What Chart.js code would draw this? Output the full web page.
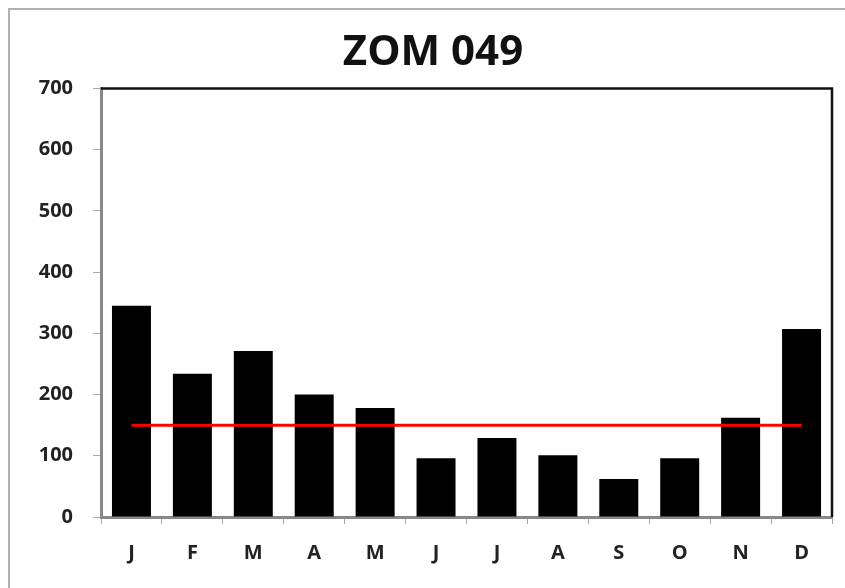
<!DOCTYPE html>
<html>
<head>
<meta charset="utf-8">
<script src="https://cdn.jsdelivr.net/npm/chart.js@4"></script>
<style>
  html, body { margin: 0; padding: 0; background: #fff; }
  #wrap { width: 845px; height: 588px; position: relative; }
</style>
</head>
<body>
<div id="wrap"><canvas id="chart" width="845" height="588"></canvas></div>
<script>
const months = ['J', 'F', 'M', 'A', 'M', 'J', 'J', 'A', 'S', 'O', 'N', 'D'];
const rainfall = [345, 234, 271, 200, 178, 96, 129, 101, 62, 96, 162, 307];
const meanLine = [150, 150, 150, 150, 150, 150, 150, 150, 150, 150, 150, 150];
const yTicks = [0, 100, 200, 300, 400, 500, 600, 700];

// frame round the picture and black top/right edge of the plot
const framePlugin = {
  id: 'frame',
  beforeDraw(chart) {
    const c = chart.ctx;
    c.save();
    c.strokeStyle = '#b0b0b0';
    c.lineWidth = 2;
    c.beginPath();
    c.moveTo(9, 588);
    c.lineTo(9, 9);
    c.lineTo(845, 9);
    c.stroke();
    c.restore();
  },
  afterDraw(chart) {
    const a = chart.chartArea;
    const c = chart.ctx;
    c.save();
    c.strokeStyle = '#111';
    c.lineWidth = 2.5;
    c.beginPath();
    c.moveTo(a.left, a.top);
    c.lineTo(a.right, a.top);
    c.lineTo(a.right, a.bottom);
    c.stroke();
    c.restore();
  }
};

const tickFont = { family: 'Open Sans', size: 20, weight: 'bold' };

new Chart(document.getElementById('chart'), {
  type: 'bar',
  data: {
    labels: months,
    datasets: [
      {
        type: 'line',
        data: meanLine,
        borderColor: '#ff0000',
        borderWidth: 3,
        pointRadius: 0,
        order: 0
      },
      {
        data: rainfall,
        backgroundColor: '#000',
        barPercentage: 0.64,
        categoryPercentage: 1,
        order: 1
      }
    ]
  },
  options: {
    responsive: false,
    animation: false,
    layout: { padding: { left: 34, right: 13, top: 0, bottom: 0 } },
    plugins: {
      legend: { display: false },
      tooltip: { enabled: false },
      title: {
        display: true,
        text: 'ZOM 049',
        color: '#111',
        font: { family: 'Open Sans', size: 42, weight: 'bold', lineHeight: 1.2 },
        padding: { top: 28, bottom: 10 }
      }
    },
    scales: {
      x: {
        grid: { drawOnChartArea: false, tickLength: 7, color: '#aaa', offset: true },
        border: { color: '#888', width: 3 },
        ticks: { color: '#222', font: tickFont, padding: 17 },
        afterFit(s) { s.height = 71; }
      },
      y: {
        min: 0,
        max: 700,
        afterBuildTicks(s) { s.ticks = yTicks.map(v => ({ value: v })); },
        grid: { drawOnChartArea: false, tickLength: 8, color: '#aaa' },
        border: { color: '#888', width: 3 },
        ticks: { color: '#222', font: tickFont, padding: 20 },
        afterFit(s) { s.width = 67; }
      }
    }
  },
  plugins: [framePlugin]
});
</script>
</body>
</html>
